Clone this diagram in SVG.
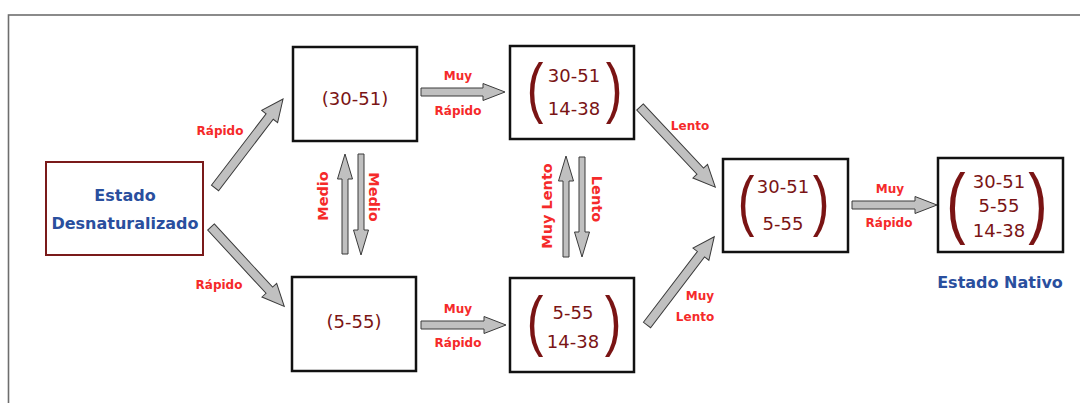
<svg xmlns="http://www.w3.org/2000/svg" width="1080" height="403" viewBox="0 0 1080 403">
<style>
.frame{fill:none;stroke:#6e6e6e;stroke-width:1.6}
.box{fill:#fff;stroke:#111;stroke-width:2.5}
.box0{fill:#fff;stroke:#7a1a1a;stroke-width:2}
.num{font-family:"DejaVu Sans",sans-serif;font-size:18px;fill:#7a1414;text-anchor:middle}
.par{font-family:"Liberation Sans",sans-serif;font-size:50px;fill:#7a1414;text-anchor:middle}
.parL{font-family:"Liberation Sans",sans-serif;font-size:58px;fill:#7a1414;text-anchor:middle}
.blue{font-family:"DejaVu Sans",sans-serif;font-weight:bold;font-size:16px;fill:#2a4f9e;text-anchor:middle}
.lbl{font-family:"DejaVu Sans",sans-serif;font-weight:bold;font-size:12px;fill:#f52a2a;text-anchor:middle}
.vl{font-family:"DejaVu Sans",sans-serif;font-weight:bold;font-size:14.5px;fill:#f52a2a;text-anchor:middle}
.arr{fill:#c0c0c0;stroke:#3a3a3a;stroke-width:1;stroke-linejoin:miter}
</style>
<rect width="1080" height="403" fill="#fff"/>
<rect class="frame" x="8.5" y="15" width="1100" height="450"/>

<g id="connectors">
  <polygon class="arr" transform="translate(215,188) rotate(-52.6)" points="0,-4.5 90,-4.5 90,-10 112,0 90,10 90,4.5 0,4.5"/>
  <polygon class="arr" transform="translate(211,227) rotate(47.3)" points="0,-4.5 86,-4.5 86,-10 108,0 86,10 86,4.5 0,4.5"/>
  <polygon class="arr" transform="translate(421,92)" points="0,-4 62,-4 62,-8.5 84,0 62,8.5 62,4 0,4"/>
  <polygon class="arr" transform="translate(421,325)" points="0,-4 63,-4 63,-8.5 85,0 63,8.5 63,4 0,4"/>
  <polygon class="arr" transform="translate(852,205)" points="0,-4 63,-4 63,-8.5 85,0 63,8.5 63,4 0,4"/>
  <polygon class="arr" transform="translate(640,107) rotate(46.8)" points="0,-4.5 88,-4.5 88,-10 110,0 88,10 88,4.5 0,4.5"/>
  <polygon class="arr" transform="translate(647,325) rotate(-52.7)" points="0,-4.5 89,-4.5 89,-10 111,0 89,10 89,4.5 0,4.5"/>
  <polygon class="arr" transform="translate(345,254) rotate(-90)" points="0,-3 75,-3 75,-7.5 100,0 75,7.5 75,3 0,3"/>
  <polygon class="arr" transform="translate(361,154) rotate(90)" points="0,-3 76,-3 76,-7.5 101,0 76,7.5 76,3 0,3"/>
  <polygon class="arr" transform="translate(566,257) rotate(-90)" points="0,-3 76,-3 76,-7.5 101,0 76,7.5 76,3 0,3"/>
  <polygon class="arr" transform="translate(582,157) rotate(90)" points="0,-3 75,-3 75,-7.5 100,0 75,7.5 75,3 0,3"/>

  <text class="lbl" x="220" y="135">Rápido</text>
  <text class="lbl" x="219" y="289">Rápido</text>
  <text class="lbl" x="458" y="80">Muy</text>
  <text class="lbl" x="458" y="115">Rápido</text>
  <text class="lbl" x="458" y="313">Muy</text>
  <text class="lbl" x="458" y="347">Rápido</text>
  <text class="lbl" x="890" y="193">Muy</text>
  <text class="lbl" x="889" y="227">Rápido</text>
  <text class="lbl" x="690" y="130">Lento</text>
  <text class="lbl" x="700" y="300">Muy</text>
  <text class="lbl" x="695" y="321">Lento</text>
  <text class="vl" transform="translate(328,196) rotate(-90)">Medio</text>
  <text class="vl" transform="translate(369,197) rotate(90)">Medio</text>
  <text class="vl" transform="translate(552,206) rotate(-90)">Muy Lento</text>
  <text class="vl" transform="translate(592,199) rotate(90)">Lento</text>
</g>

<g id="node-desnaturalizado">
  <rect class="box0" x="46" y="162" width="157" height="93"/>
  <text class="blue" x="125" y="201">Estado</text>
  <text class="blue" x="125" y="229">Desnaturalizado</text>
</g>

<g id="node-30-51">
  <rect class="box" x="293" y="47" width="124" height="94"/>
  <text class="num" x="355" y="105">(30-51)</text>
</g>

<g id="node-5-55">
  <rect class="box" x="292" y="277" width="124" height="94"/>
  <text class="num" x="354" y="328">(5-55)</text>
</g>

<g id="node-30-51-14-38">
  <rect class="box" x="510" y="46" width="124" height="93"/>
  <text class="par" transform="translate(535,110.4) scale(1,1.33)">(</text>
  <text class="par" transform="translate(614,110.4) scale(1,1.33)">)</text>
  <text class="num" x="574" y="82">30-51</text>
  <text class="num" x="574" y="115">14-38</text>
</g>

<g id="node-5-55-14-38">
  <rect class="box" x="510" y="278" width="124" height="94"/>
  <text class="par" transform="translate(535,343.4) scale(1,1.33)">(</text>
  <text class="par" transform="translate(613,343.4) scale(1,1.33)">)</text>
  <text class="num" x="573" y="319">5-55</text>
  <text class="num" x="573" y="348">14-38</text>
</g>

<g id="node-30-51-5-55">
  <rect class="box" x="723" y="159" width="125" height="93"/>
  <text class="par" transform="translate(746,223.4) scale(1,1.33)">(</text>
  <text class="par" transform="translate(821,223.4) scale(1,1.33)">)</text>
  <text class="num" x="783" y="193">30-51</text>
  <text class="num" x="783" y="230">5-55</text>
</g>

<g id="node-nativo">
  <rect class="box" x="938" y="158" width="125" height="94"/>
  <text class="parL" transform="translate(956,228.6) scale(1,1.34)">(</text>
  <text class="parL" transform="translate(1038,228.6) scale(1,1.34)">)</text>
  <text class="num" x="999" y="188">30-51</text>
  <text class="num" x="999" y="212">5-55</text>
  <text class="num" x="999" y="237">14-38</text>
  <text class="blue" x="1000" y="288">Estado Nativo</text>
</g>
</svg>
